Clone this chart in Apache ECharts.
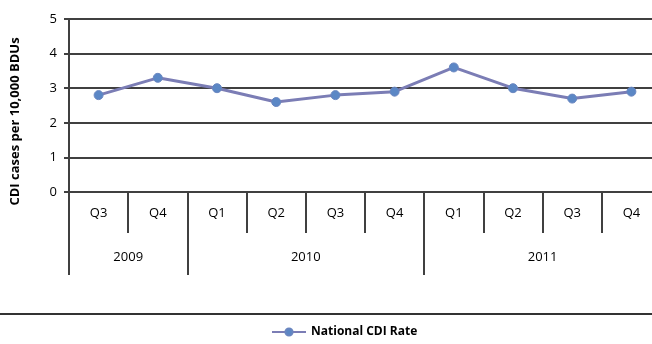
<!DOCTYPE html>
<html>
<head>
<meta charset="utf-8">
<script src="https://cdn.jsdelivr.net/npm/echarts@6/dist/echarts.min.js"></script>
<style>
  html, body { margin: 0; padding: 0; background: #fff; overflow: hidden; }
  /* plot runs past the right edge in the reference, so the canvas is a bit wider */
  #chart { width: 661px; height: 344px; }
</style>
</head>
<body>
<div id="chart"></div>
<script>
  // quarters and rate values
  var quarters = ['Q3', 'Q4', 'Q1', 'Q2', 'Q3', 'Q4', 'Q1', 'Q2', 'Q3', 'Q4']
  var rates = [2.8, 3.3, 3.0, 2.6, 2.8, 2.9, 3.6, 3.0, 2.7, 2.9]
  var years = ['2009', '2010', '2011']
  var yearStarts = [0, 2, 6, 10]   // boundaries of year groups (quarter index)
  var yearCenters = [1, 4, 8]
  var yTicks = [0, 1, 2, 3, 4, 5]

  var font = 'Open Sans'
  var lineCol = '#404040'
  var chart = echarts.init(document.getElementById('chart'))
  chart.setOption({
    animation: false,
    grid: {
      left: 69,
      top: 19,
      right: 0,
      bottom: 152
    },
    legend: {
      bottom: 1,
      left: 266,
      itemWidth: 34,
      itemHeight: 9,
      itemGap: 4,
      textStyle: { fontFamily: font, fontSize: 12, fontWeight: 'bold', color: '#000' },
      data: ['National CDI Rate']
    },
    xAxis: [{
      type: 'category',
      data: quarters,
      boundaryGap: true,
      axisLine: { lineStyle: { color: lineCol, width: 2 } },
      axisTick: { show: true, interval: 0, length: 41, lineStyle: { color: lineCol, width: 2 } },
      axisLabel: { interval: 0, margin: 15, color: '#000', fontFamily: font, fontSize: 13 }
    }, {
      type: 'value',
      position: 'bottom',
      min: 0,
      max: quarters.length,
      splitLine: { show: false },
      axisLine: { show: false },
      axisTick: { show: true, customValues: yearStarts, length: 83, lineStyle: { color: lineCol, width: 2 } },
      axisLabel: {
        customValues: yearCenters,
        margin: 59,
        color: '#000',
        fontFamily: font,
        fontSize: 13,
        formatter: function (v) { return years[yearCenters.indexOf(v)] }
      }
    }],
    yAxis: {
      type: 'value',
      min: yTicks[0],
      max: yTicks[yTicks.length - 1],
      interval: 1,
      name: 'CDI cases per 10,000 BDUs',
      nameLocation: 'middle',
      nameGap: 47,
      nameTextStyle: { fontFamily: font, fontSize: 13, fontWeight: 'bold', color: '#000', padding: [0, 0, 0, -32] },
      axisLine: { show: true, lineStyle: { color: lineCol, width: 2 } },
      axisTick: { show: true, length: 5, inside: false, lineStyle: { color: lineCol, width: 2 } },
      axisLabel: { margin: 12, color: '#000', fontFamily: font, fontSize: 13 },
      splitLine: { lineStyle: { color: lineCol, width: 2 } }
    },
    graphic: [{
      type: 'line',
      shape: { x1: 0, y1: 314, x2: 661, y2: 314 },
      style: { stroke: '#333', lineWidth: 2 }
    }],
    series: [{
      name: 'National CDI Rate',
      type: 'line',
      xAxisIndex: 0,
      data: rates,
      symbol: 'circle',
      symbolSize: 9,
      lineStyle: { color: '#7b7db5', width: 3 },
      itemStyle: { color: '#5b87c5', borderColor: '#6a86c0', borderWidth: 1 }
    }]
  })
</script>
</body>
</html>
